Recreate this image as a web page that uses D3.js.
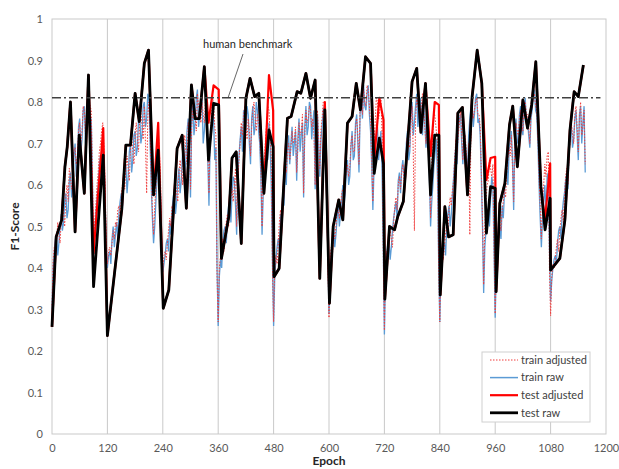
<!DOCTYPE html>
<html>
<head>
<meta charset="utf-8">
<script src="https://cdn.jsdelivr.net/npm/d3@7"></script>
<style>
  body { margin: 0; background: #fff; }
  text { font-family: Lato, "Open Sans", sans-serif; }
</style>
</head>
<body>
<svg id="chart" width="619" height="469"></svg>
<script>
// ---- data ----
const xTicks = [0, 120, 240, 360, 480, 600, 720, 840, 960, 1080, 1200];
const yTicks = [0, 0.1, 0.2, 0.3, 0.4, 0.5, 0.6, 0.7, 0.8, 0.9, 1];
const yTickLabels = ["0", "0.1", "0.2", "0.3", "0.4", "0.5", "0.6", "0.7", "0.8", "0.9", "1"];
const benchmark = 0.81;
const benchmarkLabel = "human benchmark";

// train curves, one value every 2.5 epochs starting at epoch 0 (one row per 120-epoch cycle)
const trainStep = 2.5;
const trainRaw = [
  0.30,0.40,0.44,0.47,0.48,0.43,0.46,0.50,0.53,0.49,0.51,0.56,0.58,0.52,0.54,0.61,0.63,0.57,0.60,0.67,0.70,0.62,0.65,0.74,0.76,0.68,0.71,0.78,0.79,0.70,0.73,0.81,0.82,0.74,0.76,0.62,0.44,0.49,0.53,0.57,0.60,0.65,0.67,0.64,0.71,0.66,0.57,0.45,
  0.40,0.43,0.44,0.41,0.47,0.50,0.45,0.48,0.51,0.47,0.53,0.56,0.58,0.54,0.61,0.64,0.65,0.58,0.62,0.68,0.70,0.63,0.66,0.72,0.73,0.67,0.69,0.76,0.77,0.70,0.72,0.79,0.80,0.74,0.76,0.82,0.81,0.70,0.60,0.52,0.46,0.50,0.56,0.62,0.66,0.60,0.58,0.45,
  0.39,0.41,0.43,0.46,0.47,0.44,0.51,0.48,0.54,0.57,0.59,0.53,0.56,0.61,0.64,0.58,0.61,0.67,0.70,0.63,0.66,0.73,0.76,0.69,0.57,0.75,0.79,0.72,0.75,0.81,0.83,0.74,0.77,0.80,0.81,0.70,0.73,0.78,0.79,0.66,0.55,0.70,0.72,0.77,0.76,0.66,0.69,0.40,
  0.26,0.38,0.42,0.40,0.46,0.49,0.50,0.46,0.52,0.55,0.56,0.51,0.58,0.62,0.61,0.55,0.48,0.63,0.67,0.71,0.74,0.68,0.78,0.75,0.73,0.79,0.77,0.70,0.65,0.76,0.79,0.72,0.74,0.80,0.78,0.73,0.70,0.62,0.48,0.58,0.63,0.67,0.70,0.66,0.75,0.70,0.60,0.42,
  0.26,0.38,0.42,0.45,0.47,0.44,0.53,0.50,0.59,0.55,0.64,0.60,0.69,0.72,0.65,0.70,0.74,0.67,0.70,0.73,0.61,0.71,0.76,0.68,0.72,0.75,0.57,0.74,0.79,0.72,0.74,0.80,0.79,0.71,0.75,0.78,0.59,0.72,0.77,0.70,0.62,0.71,0.74,0.78,0.79,0.68,0.57,0.44,
  0.29,0.40,0.44,0.47,0.50,0.45,0.48,0.52,0.55,0.50,0.53,0.57,0.60,0.55,0.58,0.63,0.66,0.60,0.62,0.69,0.73,0.66,0.67,0.75,0.77,0.70,0.63,0.78,0.81,0.76,0.84,0.79,0.78,0.82,0.84,0.77,0.73,0.65,0.54,0.64,0.69,0.72,0.74,0.66,0.70,0.73,0.63,0.45,
  0.24,0.39,0.43,0.46,0.47,0.42,0.45,0.49,0.52,0.54,0.56,0.52,0.61,0.63,0.58,0.64,0.66,0.62,0.60,0.70,0.73,0.66,0.68,0.77,0.80,0.72,0.75,0.79,0.82,0.74,0.77,0.81,0.78,0.72,0.80,0.76,0.69,0.75,0.73,0.62,0.50,0.56,0.60,0.65,0.68,0.71,0.62,0.42,
  0.27,0.40,0.43,0.45,0.46,0.43,0.50,0.53,0.55,0.50,0.53,0.58,0.62,0.66,0.70,0.65,0.73,0.76,0.77,0.70,0.65,0.74,0.71,0.67,0.62,0.72,0.76,0.79,0.80,0.74,0.77,0.81,0.82,0.75,0.76,0.72,0.62,0.50,0.34,0.45,0.49,0.52,0.54,0.50,0.57,0.62,0.60,0.44,
  0.28,0.41,0.45,0.48,0.50,0.47,0.55,0.52,0.58,0.62,0.64,0.60,0.68,0.71,0.73,0.66,0.54,0.72,0.76,0.70,0.71,0.77,0.79,0.74,0.72,0.78,0.81,0.75,0.76,0.72,0.69,0.76,0.78,0.82,0.83,0.78,0.77,0.70,0.60,0.52,0.45,0.52,0.56,0.60,0.53,0.62,0.63,0.45,
  0.32,0.37,0.40,0.42,0.43,0.41,0.46,0.49,0.50,0.47,0.53,0.56,0.58,0.61,0.63,0.59,0.68,0.72,0.74,0.69,0.71,0.76,0.78,0.72,0.66,0.77,0.79,0.70,0.75,0.79,0.63
];
const trainAdj = [
  0.31,0.42,0.45,0.44,0.47,0.51,0.48,0.46,0.52,0.56,0.53,0.50,0.57,0.60,0.56,0.64,0.62,0.59,0.62,0.68,0.69,0.65,0.67,0.73,0.75,0.70,0.73,0.79,0.78,0.72,0.75,0.83,0.81,0.79,0.78,0.63,0.46,0.51,0.55,0.60,0.63,0.68,0.70,0.73,0.75,0.69,0.60,0.47,
  0.41,0.44,0.45,0.43,0.46,0.49,0.47,0.51,0.50,0.54,0.55,0.52,0.57,0.60,0.62,0.59,0.64,0.67,0.64,0.61,0.69,0.72,0.68,0.65,0.72,0.75,0.71,0.68,0.76,0.78,0.74,0.71,0.79,0.70,0.58,0.77,0.80,0.72,0.62,0.54,0.48,0.55,0.59,0.66,0.73,0.68,0.62,0.46,
  0.40,0.43,0.44,0.42,0.46,0.49,0.52,0.50,0.55,0.53,0.58,0.61,0.58,0.56,0.63,0.66,0.63,0.60,0.69,0.72,0.68,0.65,0.75,0.71,0.59,0.74,0.78,0.76,0.77,0.73,0.82,0.79,0.78,0.75,0.80,0.77,0.75,0.81,0.80,0.68,0.58,0.72,0.76,0.81,0.80,0.74,0.72,0.38,
  0.27,0.40,0.43,0.45,0.47,0.44,0.49,0.51,0.53,0.50,0.55,0.57,0.59,0.56,0.60,0.64,0.50,0.61,0.66,0.70,0.75,0.72,0.77,0.79,0.74,0.71,0.76,0.73,0.67,0.74,0.78,0.80,0.76,0.73,0.77,0.75,0.72,0.64,0.50,0.61,0.66,0.71,0.75,0.79,0.78,0.72,0.66,0.40,
  0.27,0.40,0.43,0.41,0.46,0.51,0.54,0.52,0.58,0.62,0.65,0.63,0.68,0.70,0.66,0.69,0.73,0.70,0.71,0.74,0.63,0.69,0.75,0.72,0.73,0.77,0.58,0.72,0.78,0.75,0.76,0.79,0.78,0.74,0.76,0.72,0.60,0.74,0.78,0.71,0.64,0.73,0.76,0.80,0.80,0.70,0.60,0.42,
  0.28,0.42,0.45,0.43,0.49,0.47,0.50,0.54,0.54,0.52,0.55,0.58,0.59,0.57,0.60,0.64,0.65,0.62,0.64,0.70,0.72,0.68,0.68,0.74,0.76,0.72,0.65,0.79,0.80,0.77,0.83,0.80,0.79,0.84,0.83,0.79,0.75,0.66,0.56,0.70,0.75,0.81,0.80,0.76,0.78,0.81,0.72,0.44,
  0.25,0.41,0.44,0.42,0.46,0.49,0.47,0.45,0.51,0.55,0.57,0.54,0.60,0.62,0.59,0.63,0.65,0.61,0.62,0.68,0.72,0.70,0.69,0.75,0.79,0.68,0.49,0.76,0.81,0.79,0.78,0.75,0.79,0.82,0.79,0.74,0.70,0.76,0.74,0.64,0.52,0.66,0.72,0.78,0.76,0.73,0.70,0.40,
  0.27,0.41,0.44,0.42,0.45,0.48,0.51,0.49,0.54,0.57,0.55,0.59,0.61,0.67,0.71,0.68,0.72,0.75,0.78,0.72,0.66,0.71,0.72,0.68,0.60,0.70,0.48,0.74,0.79,0.76,0.78,0.80,0.81,0.77,0.77,0.74,0.63,0.52,0.36,0.50,0.56,0.60,0.61,0.66,0.64,0.62,0.65,0.45,
  0.29,0.40,0.44,0.47,0.51,0.49,0.54,0.56,0.59,0.57,0.63,0.66,0.69,0.67,0.72,0.64,0.56,0.70,0.75,0.73,0.72,0.76,0.78,0.75,0.73,0.79,0.80,0.77,0.77,0.74,0.70,0.77,0.79,0.81,0.82,0.79,0.78,0.72,0.62,0.55,0.47,0.56,0.60,0.65,0.62,0.67,0.68,0.40,
  0.285,0.38,0.41,0.40,0.42,0.45,0.47,0.44,0.49,0.52,0.54,0.51,0.57,0.62,0.64,0.60,0.67,0.71,0.75,0.72,0.70,0.77,0.79,0.74,0.68,0.76,0.80,0.72,0.74,0.78,0.65
];

// test curves
const testEpochs = [
  0,9,21,28,33,40,50,59,70,79,90,111,120,
  151,160,170,180,189,200,209,220,230,241,
  253,271,282,291,302,310,319,330,339,350,361,
  367,383,390,399,410,420,429,439,448,459,470,479,
  481,492,510,518,531,539,550,560,570,580,591,
  601,609,621,630,640,650,659,668,679,690,698,709,718,
  721,731,742,749,761,780,790,799,809,820,829,838,
  841,851,859,869,879,889,900,910,921,931,941,950,960,
  962,970,981,991,998,1008,1020,1030,1039,1048,1059,1068,1079,
  1080,1100,1111,1122,1131,1140,1151
];
const testRaw = [
  0.258,0.475,0.516,0.644,0.692,0.80,0.487,0.72,0.58,0.865,0.355,0.672,0.237,
  0.54,0.696,0.696,0.821,0.753,0.893,0.925,0.576,0.684,0.303,
  0.347,0.688,0.72,0.544,0.841,0.76,0.76,0.885,0.66,0.797,0.793,
  0.423,0.524,0.665,0.68,0.459,0.809,0.857,0.813,0.821,0.58,0.733,0.692,
  0.379,0.399,0.761,0.765,0.825,0.821,0.869,0.809,0.853,0.375,0.781,
  0.315,0.50,0.564,0.516,0.749,0.765,0.845,0.781,0.909,0.893,0.628,0.713,0.652,
  0.325,0.50,0.492,0.524,0.56,0.849,0.881,0.727,0.845,0.576,0.72,0.72,
  0.335,0.548,0.475,0.48,0.773,0.787,0.576,0.813,0.925,0.845,0.484,0.596,0.592,
  0.343,0.556,0.604,0.745,0.79,0.644,0.805,0.737,0.793,0.897,0.596,0.492,0.568,
  0.395,0.423,0.516,0.733,0.825,0.813,0.889
];
const testAdj = [
  0.258,0.475,0.516,0.644,0.692,0.80,0.487,0.72,0.58,0.865,0.435,0.737,0.237,
  0.54,0.696,0.696,0.821,0.753,0.893,0.925,0.576,0.75,0.303,
  0.347,0.688,0.72,0.544,0.841,0.76,0.76,0.885,0.75,0.84,0.83,
  0.423,0.524,0.665,0.68,0.459,0.809,0.857,0.813,0.821,0.58,0.865,0.78,
  0.379,0.399,0.761,0.765,0.825,0.821,0.869,0.809,0.853,0.375,0.80,
  0.315,0.50,0.564,0.516,0.749,0.765,0.845,0.781,0.909,0.893,0.66,0.81,0.757,
  0.325,0.50,0.492,0.524,0.56,0.849,0.881,0.727,0.845,0.67,0.80,0.793,
  0.335,0.548,0.475,0.48,0.773,0.787,0.576,0.813,0.925,0.845,0.612,0.665,0.668,
  0.343,0.556,0.604,0.745,0.79,0.644,0.805,0.737,0.793,0.897,0.596,0.516,0.652,
  0.395,0.423,0.516,0.733,0.825,0.813,0.889
];

const legendNames = ["train adjusted", "train raw", "test adjusted", "test raw"];

// ---- drawing ----
const svg = d3.select("#chart");
const plotLeft = 52, plotRight = 606, plotTop = 19, plotBottom = 434;

const x = d3.scaleLinear().domain([0, 1200]).range([plotLeft, plotRight]);
const y = d3.scaleLinear().domain([0, 1]).range([plotBottom, plotTop]);

const gridColor = "#c9c9c9";

// vertical gridlines
svg.append("g")
  .selectAll("line")
  .data(xTicks.slice(1, -1))
  .enter().append("line")
  .attr("x1", d => x(d)).attr("x2", d => x(d))
  .attr("y1", y(0)).attr("y2", y(1))
  .attr("stroke", gridColor).attr("stroke-width", 1);

// plot frame
svg.append("rect")
  .attr("x", plotLeft).attr("y", plotTop)
  .attr("width", plotRight - plotLeft).attr("height", plotBottom - plotTop)
  .attr("fill", "none").attr("stroke", gridColor).attr("stroke-width", 1);

// axes
const xAxis = svg.append("g")
  .attr("transform", `translate(0,${plotBottom})`)
  .call(d3.axisBottom(x).tickValues(xTicks).tickSize(0).tickPadding(10)
    .tickFormat(d3.format("d")));
const yAxis = svg.append("g")
  .attr("transform", `translate(${plotLeft},0)`)
  .call(d3.axisLeft(y).tickValues(yTicks).tickSize(0).tickPadding(9)
    .tickFormat((d, i) => yTickLabels[i]));
[xAxis, yAxis].forEach(g => {
  g.select(".domain").remove();
  g.selectAll("text").attr("fill", "#595959").style("font-size", "11px")
    .style("font-family", "Lato, 'Open Sans', sans-serif");
});

// axis titles
svg.append("text")
  .attr("x", x(600)).attr("y", 465)
  .attr("text-anchor", "middle")
  .attr("font-size", 12).attr("font-weight", "bold").attr("fill", "#262626")
  .text("Epoch");
svg.append("text")
  .attr("transform", `translate(19,${(plotTop + plotBottom) / 2}) rotate(-90)`)
  .attr("text-anchor", "middle")
  .attr("font-size", 12).attr("font-weight", "bold").attr("fill", "#262626")
  .text("F1-Score");

const line = d3.line().x(d => x(d[0])).y(d => y(d[1]));
const trainPts = arr => arr.map((v, i) => [i * trainStep, v]);
const testPts = arr => arr.map((v, i) => [testEpochs[i], v]);

// train raw
svg.append("path")
  .datum(trainPts(trainRaw))
  .attr("d", line)
  .attr("fill", "none").attr("stroke", "#5b9bd5").attr("stroke-width", 1.3);

// train adjusted (dotted red)
svg.append("path")
  .datum(trainPts(trainAdj))
  .attr("d", line)
  .attr("fill", "none").attr("stroke", "#f03c3c").attr("stroke-width", 1)
  .attr("stroke-dasharray", "1.5,1.5");

// test adjusted
svg.append("path")
  .datum(testPts(testAdj))
  .attr("d", line)
  .attr("fill", "none").attr("stroke", "#ff0000").attr("stroke-width", 2.2)
  .attr("stroke-linejoin", "round");

// test raw
svg.append("path")
  .datum(testPts(testRaw))
  .attr("d", line)
  .attr("fill", "none").attr("stroke", "#000").attr("stroke-width", 2.8)
  .attr("stroke-linejoin", "round");

// human benchmark
svg.append("line")
  .attr("x1", x(0)).attr("x2", x(1188))
  .attr("y1", y(benchmark)).attr("y2", y(benchmark))
  .attr("stroke", "#404040").attr("stroke-width", 1.5)
  .attr("stroke-dasharray", "9,3,2,3");
svg.append("line")
  .attr("x1", 243).attr("y1", 54)
  .attr("x2", 228).attr("y2", y(benchmark))
  .attr("stroke", "#404040").attr("stroke-width", 0.8);
svg.append("text")
  .attr("x", 203).attr("y", 48)
  .attr("font-size", 11).attr("fill", "#262626")
  .text(benchmarkLabel);

// legend
const legend = svg.append("g").attr("transform", "translate(482,352)");
legend.append("rect")
  .attr("width", 108).attr("height", 70)
  .attr("fill", "#fff").attr("stroke", "#d0d0d0");
const legendStyles = [
  { stroke: "#f03c3c", width: 1, dash: "1.5,1.5" },
  { stroke: "#5b9bd5", width: 1.5, dash: null },
  { stroke: "#ff0000", width: 2.2, dash: null },
  { stroke: "#000", width: 2.8, dash: null }
];
const rows = legend.selectAll("g.row")
  .data(legendNames)
  .enter().append("g")
  .attr("class", "row")
  .attr("transform", (d, i) => `translate(0,${8 + i * 17.6})`);
rows.append("line")
  .attr("x1", 8).attr("x2", 36)
  .attr("stroke", (d, i) => legendStyles[i].stroke)
  .attr("stroke-width", (d, i) => legendStyles[i].width)
  .attr("stroke-dasharray", (d, i) => legendStyles[i].dash);
rows.append("text")
  .attr("x", 39).attr("dy", "0.35em")
  .attr("font-size", 11).attr("fill", "#404040")
  .text(d => d);
</script>
</body>
</html>
